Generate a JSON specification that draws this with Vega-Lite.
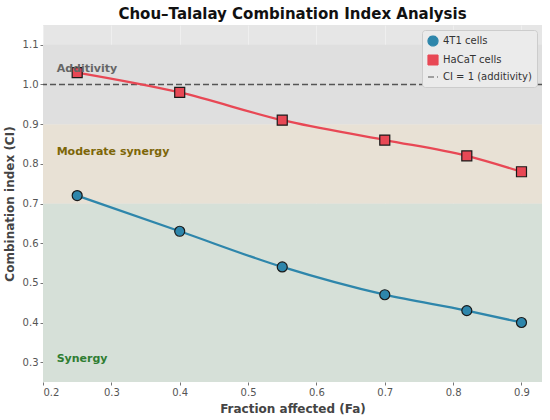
{
  "$schema": "https://vega.github.io/schema/vega-lite/v6.json",
  "description": "Chou-Talalay combination index vs fraction affected for 4T1 and HaCaT cells",
  "autosize": {"type": "none"},
  "width": 499,
  "height": 357,
  "padding": {"left": 43, "top": 25, "right": 8, "bottom": 38},
  "background": "#ffffff",
  "config": {
    "font": "DejaVu Sans",
    "view": {"fill": "#e6e6e6", "stroke": null},
    "axis": {
      "labelColor": "#555555",
      "labelFontSize": 10,
      "tickColor": "#777777",
      "tickSize": 3,
      "domain": false,
      "grid": true,
      "gridColor": "#ffffff",
      "gridOpacity": 0.35,
      "titleColor": "#444444",
      "titleFontSize": 12,
      "titleFontWeight": "bold"
    }
  },
  "title": {
    "text": "Chou–Talalay Combination Index Analysis",
    "fontSize": 15,
    "fontWeight": "bold",
    "color": "#111111",
    "offset": 3
  },
  "datasets": {
    "cells": [
      {"fa": 0.25, "ci": 0.72, "series": "4T1 cells"},
      {"fa": 0.40, "ci": 0.63, "series": "4T1 cells"},
      {"fa": 0.55, "ci": 0.54, "series": "4T1 cells"},
      {"fa": 0.70, "ci": 0.47, "series": "4T1 cells"},
      {"fa": 0.82, "ci": 0.43, "series": "4T1 cells"},
      {"fa": 0.90, "ci": 0.40, "series": "4T1 cells"},
      {"fa": 0.25, "ci": 1.03, "series": "HaCaT cells"},
      {"fa": 0.40, "ci": 0.98, "series": "HaCaT cells"},
      {"fa": 0.55, "ci": 0.91, "series": "HaCaT cells"},
      {"fa": 0.70, "ci": 0.86, "series": "HaCaT cells"},
      {"fa": 0.82, "ci": 0.82, "series": "HaCaT cells"},
      {"fa": 0.90, "ci": 0.78, "series": "HaCaT cells"}
    ],
    "bands": [
      {"lo": 0.25, "hi": 0.7, "zone": "Synergy"},
      {"lo": 0.7, "hi": 0.9, "zone": "Moderate synergy"},
      {"lo": 0.9, "hi": 1.1, "zone": "Additivity"}
    ],
    "labels": [
      {"fa": 0.22, "ci": 0.309, "zone": "Synergy"},
      {"fa": 0.22, "ci": 0.829, "zone": "Moderate synergy"},
      {"fa": 0.22, "ci": 1.038, "zone": "Additivity"}
    ],
    "ref": [
      {"ci": 1.0, "series": "CI = 1 (additivity)"}
    ]
  },
  "layer": [
    {
      "data": {"name": "bands"},
      "mark": {"type": "rect"},
      "encoding": {
        "x": {"datum": 0.2, "type": "quantitative"},
        "x2": {"datum": 0.93},
        "y": {"field": "lo", "type": "quantitative"},
        "y2": {"field": "hi"},
        "fill": {
          "field": "zone",
          "type": "nominal",
          "scale": {
            "domain": ["Synergy", "Moderate synergy", "Additivity"],
            "range": ["#d6e0d8", "#e8e1d5", "#dfdfdf"]
          },
          "legend": null
        }
      }
    },
    {
      "data": {"name": "ref"},
      "mark": {"type": "rule", "strokeWidth": 1.5},
      "encoding": {
        "y": {"field": "ci", "type": "quantitative"},
        "color": {"field": "series", "type": "nominal"},
        "strokeDash": {
          "field": "series",
          "type": "nominal",
          "scale": {
            "domain": ["4T1 cells", "HaCaT cells", "CI = 1 (additivity)"],
            "range": [[1, 0], [1, 0], [6, 3]]
          },
          "legend": null
        }
      }
    },
    {
      "data": {"name": "cells"},
      "mark": {"type": "line", "strokeWidth": 2.3, "interpolate": "monotone"},
      "encoding": {
        "x": {"field": "fa", "type": "quantitative"},
        "y": {"field": "ci", "type": "quantitative"},
        "color": {"field": "series", "type": "nominal"}
      }
    },
    {
      "data": {"name": "cells"},
      "mark": {"type": "point", "filled": true, "stroke": "#1a1a1a", "strokeWidth": 1.2, "opacity": 1, "size": 100},
      "encoding": {
        "x": {
          "field": "fa",
          "type": "quantitative",
          "title": "Fraction affected (Fa)",
          "scale": {"domain": [0.2, 0.93], "nice": false, "zero": false},
          "axis": {"values": [0.2, 0.3, 0.4, 0.5, 0.6, 0.7, 0.8, 0.9], "format": ".1f", "titlePadding": 6}
        },
        "y": {
          "field": "ci",
          "type": "quantitative",
          "title": "Combination index (CI)",
          "scale": {"domain": [0.25, 1.15], "nice": false, "zero": false},
          "axis": {"values": [0.3, 0.4, 0.5, 0.6, 0.7, 0.8, 0.9, 1.0, 1.1], "format": ".1f", "titlePadding": 6}
        },
        "color": {
          "field": "series",
          "type": "nominal",
          "title": null,
          "scale": {
            "domain": ["4T1 cells", "HaCaT cells", "CI = 1 (additivity)"],
            "range": ["#2e86ab", "#e84855", "#555555"]
          },
          "legend": {
            "orient": "top-right",
            "offset": 5,
            "fillColor": "#ebebeb",
            "strokeColor": "#cccccc",
            "padding": 5,
            "cornerRadius": 3,
            "labelFontSize": 10,
            "labelColor": "#333333",
            "symbolSize": 100,
            "rowPadding": 3,
            "symbolStrokeWidth": 1.2,
            "encode": {
              "symbols": {
                "update": {
                  "stroke": {"signal": "datum.value === 'CI = 1 (additivity)' ? '#555555' : '#1a1a1a'"},
                  "strokeDash": {"signal": "datum.value === 'CI = 1 (additivity)' ? [4, 2.5] : [1, 0]"}
                }
              }
            }
          }
        },
        "shape": {
          "field": "series",
          "type": "nominal",
          "title": null,
          "scale": {
            "domain": ["4T1 cells", "HaCaT cells", "CI = 1 (additivity)"],
            "range": ["circle", "square", "stroke"]
          }
        }
      }
    },
    {
      "data": {"name": "labels"},
      "transform": [{"filter": "datum.zone === 'Synergy'"}],
      "mark": {"type": "text", "align": "left", "baseline": "middle", "fontWeight": "bold", "fontSize": 11, "color": "#2e7d32"},
      "encoding": {
        "x": {"field": "fa", "type": "quantitative"},
        "y": {"field": "ci", "type": "quantitative"},
        "text": {"field": "zone"}
      }
    },
    {
      "data": {"name": "labels"},
      "transform": [{"filter": "datum.zone === 'Moderate synergy'"}],
      "mark": {"type": "text", "align": "left", "baseline": "middle", "fontWeight": "bold", "fontSize": 11, "color": "#7d6608"},
      "encoding": {
        "x": {"field": "fa", "type": "quantitative"},
        "y": {"field": "ci", "type": "quantitative"},
        "text": {"field": "zone"}
      }
    },
    {
      "data": {"name": "labels"},
      "transform": [{"filter": "datum.zone === 'Additivity'"}],
      "mark": {"type": "text", "align": "left", "baseline": "middle", "fontWeight": "bold", "fontSize": 11, "color": "#666666"},
      "encoding": {
        "x": {"field": "fa", "type": "quantitative"},
        "y": {"field": "ci", "type": "quantitative"},
        "text": {"field": "zone"}
      }
    }
  ]
}
